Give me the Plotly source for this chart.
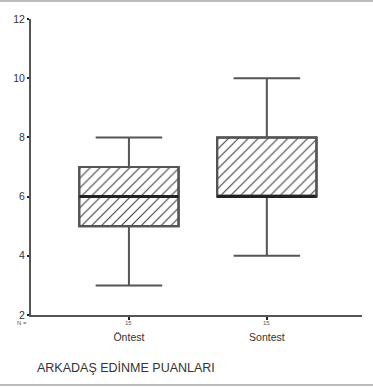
import plotly.graph_objects as go

categories = ["Öntest", "Sontest"]
q1 = [5, 6]
median = [6, 6]
q3 = [7, 8]
lowerfence = [3, 4]
upperfence = [8, 10]
n_values = [15, 15]
y_ticks = [2, 4, 6, 8, 10, 12]
title_text = "ARKADAŞ EDİNME PUANLARI"

BOX_W = 0.72
DARK = "#3a3a3a"
GRAY = "#555555"
FONT = "Liberation Sans, Arial, sans-serif"

fig = go.Figure()

# hatched box bodies
fig.add_trace(go.Bar(
    x=[0, 1], y=[b - a for a, b in zip(q1, q3)], base=q1, width=BOX_W,
    marker=dict(color="white", line=dict(color=DARK, width=1.5),
                pattern=dict(shape="/", size=7, solidity=0.15, fgcolor="#3a3a3a",
                             fgopacity=1, bgcolor="white")),
    showlegend=False, hoverinfo="skip"))

# whiskers + outline
fig.add_trace(go.Box(
    x=[0, 1], q1=q1, median=median, q3=q3, lowerfence=lowerfence, upperfence=upperfence,
    width=BOX_W, whiskerwidth=0.67, fillcolor="rgba(0,0,0,0)",
    line=dict(color=GRAY, width=2), showlegend=False, hoverinfo="skip"))

# box outline darker on top
fig.add_trace(go.Bar(
    x=[0, 1], y=[b - a for a, b in zip(q1, q3)], base=q1, width=BOX_W,
    marker=dict(color="rgba(0,0,0,0)", line=dict(color="#3d3d3d", width=2)),
    showlegend=False, hoverinfo="skip"))

# thick median lines
for i, m in enumerate(median):
    fig.add_trace(go.Scatter(x=[i - BOX_W / 2, i + BOX_W / 2], y=[m, m], mode="lines",
                             line=dict(color="#222", width=3), showlegend=False, hoverinfo="skip"))

PW, PH = 331.0, 296.0

# N labels
fig.add_annotation(x=-0.71, y=0, xref="x", yref="paper", yshift=-8, xshift=-2, text="N =",
                   showarrow=False, xanchor="right", yanchor="middle",
                   font=dict(size=6, color="#555", family=FONT))
for i, n in enumerate(n_values):
    fig.add_annotation(x=i, y=0, xref="x", yref="paper", yshift=-8, text=str(n),
                       showarrow=False, yanchor="middle", font=dict(size=6, color="#555", family=FONT))

fig.add_annotation(x=(35 - 31) / PW, y=(315 - 368) / PH, xref="paper", yref="paper",
                   text=title_text, showarrow=False, xanchor="left", yanchor="middle",
                   font=dict(size=12.5, color="#333", family=FONT))

# frame lines at top and bottom of picture
fig.add_shape(type="line", xref="paper", yref="paper", x0=-31 / PW, x1=342 / PW,
              y0=(315 - 1) / PH, y1=(315 - 1) / PH, line=dict(color="#bbbbbb", width=2))
fig.add_shape(type="line", xref="paper", yref="paper", x0=-31 / PW, x1=342 / PW,
              y0=(315 - 385) / PH, y1=(315 - 385) / PH, line=dict(color="#bbbbbb", width=2))

fig.update_layout(
    width=373, height=388, margin=dict(l=31, r=11, t=19, b=73),
    paper_bgcolor="white", plot_bgcolor="white",
    barmode="overlay",
    font=dict(family=FONT, color="#333"),
    xaxis=dict(range=[-0.71, 1.69], tickvals=[0, 1], ticktext=categories, showgrid=False,
               zeroline=False, showline=True, linecolor=GRAY, linewidth=2,
               ticks="outside", ticklen=3, tickwidth=2, tickcolor="#222",
               tickfont=dict(size=10.5, color="#333"), ticklabelstandoff=8),
    yaxis=dict(range=[2, 12], tickvals=y_ticks, showgrid=False, zeroline=False,
               showline=True, linecolor=GRAY, linewidth=2,
               ticks="outside", ticklen=2, tickwidth=2, tickcolor="#222",
               tickfont=dict(size=10.5, color="#333")),
)

fig.write_html("out.html")
